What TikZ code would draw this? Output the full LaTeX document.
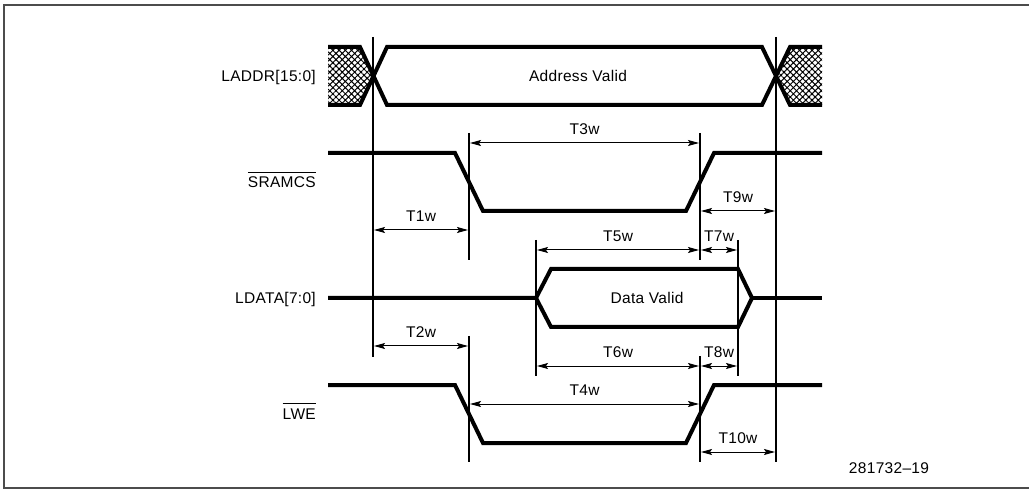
\documentclass[tikz,border=0pt]{standalone}
\usepackage{fontspec}
\setmainfont{Liberation Sans}[LetterSpace=2]
\usepackage{tikz}
\usetikzlibrary{arrows.meta,patterns.meta}
\newcommand{\activelow}[1]{$\overline{\rule{0pt}{14.5pt}\mbox{#1}}$}
\tikzset{
  signal/.style={line width=4pt,line join=miter},
  marker/.style={line width=1.6pt},
  dimline/.style={line width=1pt,<->,shorten <=1pt,shorten >=1pt},
  textfont/.style={inner sep=0pt,font=\fontsize{15.5}{15.5}\selectfont},
  dimlabel/.style={textfont,above=8pt},
  siglabel/.style={textfont,anchor=base east},
  frameline/.style={line width=1.5pt,draw=black!70},
  hatched/.style={pattern={Hatch[angle=45,distance=4.4pt,line width=1pt]}}
}
\begin{document}
\begin{tikzpicture}[x=1pt,y=-1pt,>={Stealth[length=11pt,width=6pt,inset=2pt]}]
  \useasboundingbox (0,0) rectangle (1029,489);
  % frame
  \coordinate (ftr) at (1029,5);
  \coordinate (ftl) at (4,5);
  \coordinate (fbl) at (4,488);
  \coordinate (fbr) at (1029,488);
  \draw[frameline] (ftr) -- (ftl) -- (fbl) -- (fbr);

  % signal names
  \node[siglabel] (laddr) at (316,82) {LADDR[15:0]};
  \node[siglabel] (sramcs) at (316,188) {\activelow{SRAMCS}};
  \node[siglabel] (ldata) at (316,304) {LDATA[7:0]};
  \node[siglabel] (lwe) at (316,419) {\activelow{LWE}};

  % hatched parts of the address bus
  \fill[hatched] (328,47) -- (360,47) -- (373,76) -- (360,105) -- (328,105) -- cycle;
  \fill[hatched] (822,47) -- (790,47) -- (776,76) -- (790,105) -- (822,105) -- cycle;

  % waveforms
  \draw[signal] (328,47) -- (360,47) -- (387,105) -- (762,105) -- (790,47) -- (822,47);
  \draw[signal] (328,105) -- (360,105) -- (387,47) -- (762,47) -- (790,105) -- (822,105);
  \draw[signal] (328,153) -- (455,153) -- (483,211) -- (686,211) -- (714,153) -- (822,153);
  \draw[signal] (328,298) -- (536,298) -- (551,269) -- (738,269) -- (752,298) -- (738,327) -- (551,327) -- (536,298);
  \draw[signal] (752,298) -- (822,298);
  \draw[signal] (328,385) -- (455,385) -- (483,443) -- (686,443) -- (714,385) -- (822,385);

  \node[textfont] (addrvalid) at (578,76) {Address Valid};
  \node[textfont] (datavalid) at (647,298) {Data Valid};

  % vertical markers
  \coordinate (m1a) at (373,37);  \coordinate (m1b) at (373,357);
  \coordinate (m2a) at (776,37);  \coordinate (m2b) at (776,462);
  \coordinate (m3a) at (469,133); \coordinate (m3b) at (469,260);
  \coordinate (m4a) at (469,336); \coordinate (m4b) at (469,462);
  \coordinate (m5a) at (700,133); \coordinate (m5b) at (700,260);
  \coordinate (m6a) at (700,356); \coordinate (m6b) at (700,462);
  \coordinate (m7a) at (536,240); \coordinate (m7b) at (536,376);
  \coordinate (m8a) at (738,240); \coordinate (m8b) at (738,376);
  \path[marker,draw]
        (m1a) -- (m1b) (m2a) -- (m2b)
        (m3a) -- (m3b) (m4a) -- (m4b)
        (m5a) -- (m5b) (m6a) -- (m6b)
        (m7a) -- (m7b) (m8a) -- (m8b);

  % timing arrows
  \coordinate (t1a) at (373,230);  \coordinate (t1b) at (469,230);
  \coordinate (t2a) at (373,346);  \coordinate (t2b) at (469,346);
  \coordinate (t3a) at (469,143);  \coordinate (t3b) at (700,143);
  \coordinate (t4a) at (469,404);  \coordinate (t4b) at (700,404);
  \coordinate (t5a) at (536,250);  \coordinate (t5b) at (700,250);
  \coordinate (t6a) at (536,366);  \coordinate (t6b) at (700,366);
  \coordinate (t7a) at (700,250);  \coordinate (t7b) at (738,250);
  \coordinate (t8a) at (700,366);  \coordinate (t8b) at (738,366);
  \coordinate (t9a) at (700,211);  \coordinate (t9b) at (776,211);
  \coordinate (t10a) at (700,452); \coordinate (t10b) at (776,452);
  \path[dimline]
        (t1a) edge node[dimlabel] {T1w} (t1b)
        (t2a) edge node[dimlabel] {T2w} (t2b)
        (t3a) edge node[dimlabel] {T3w} (t3b)
        (t4a) edge node[dimlabel] {T4w} (t4b)
        (t5a) edge node[dimlabel] {T5w} (t5b)
        (t6a) edge node[dimlabel] {T6w} (t6b)
        (t7a) edge node[dimlabel] {T7w} (t7b)
        (t8a) edge node[dimlabel] {T8w} (t8b)
        (t9a) edge node[dimlabel] {T9w} (t9b)
        (t10a) edge node[dimlabel] {T10w} (t10b);

  \node[textfont] (figno) at (889,468) {281732–19};
\end{tikzpicture}
\end{document}
